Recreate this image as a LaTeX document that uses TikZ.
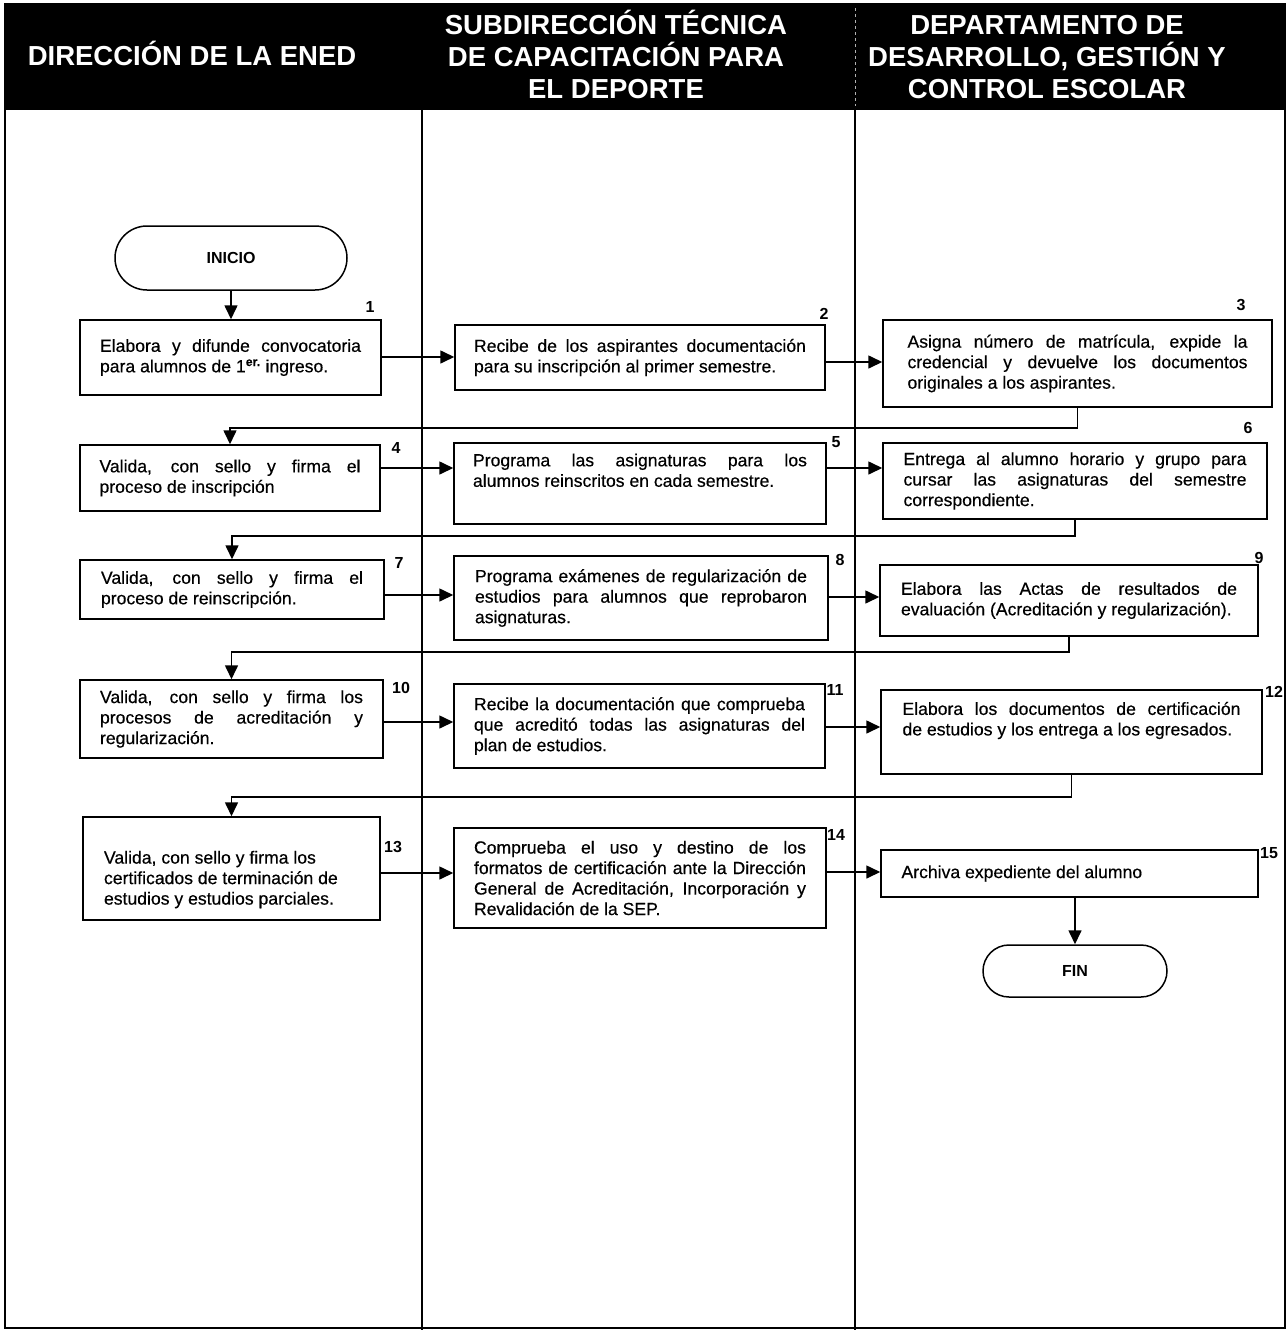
\documentclass[tikz,border=0pt]{standalone}
\usepackage{fontspec}
\setmainfont{Liberation Sans}
\newfontfamily\bodyfont{Liberation Sans}[FakeBold=0.45]
\usetikzlibrary{arrows.meta,shapes.misc}
\newcommand{\jl}[2]{\makebox[#1pt][s]{#2}}
\begin{document}
\begin{tikzpicture}[x=1pt,y=-1pt,
  proc/.style={draw, line width=1.5pt, rectangle, align=left, inner sep=0pt,
    font=\bodyfont\fontsize{17.6}{20.5}\selectfont},
  term/.style={draw, line width=1.5pt, rounded rectangle, inner sep=0pt,
    font=\bfseries\fontsize{16}{19}\selectfont},
  num/.style={font=\bfseries\fontsize{16}{19}\selectfont, inner sep=0pt},
  arr/.style={line width=1.6pt, -{Triangle[length=14pt,width=13pt]}},
  head/.style={text=white, font=\bfseries\fontsize{27.5}{32}\selectfont, align=center, inner sep=0pt},
  lane/.style={line width=1.2pt}]
\useasboundingbox (0,0) rectangle (1287,1330);
\fill[white] (0,0) rectangle (1287,1330);
% header
\fill[black] (4,3) rectangle (1286,110);
\draw[gray!60, dashed, line width=0.8pt] (855,8) -- (855,106);
\node[head] (h1) at (192,53) {DIRECCIÓN DE LA ENED};
\node[head] (h2) at (616,54) {SUBDIRECCIÓN TÉCNICA\\DE CAPACITACIÓN PARA\\EL DEPORTE};
\node[head] (h3) at (1047,57) {DEPARTAMENTO DE\\DESARROLLO, GESTIÓN Y\\CONTROL ESCOLAR};
% frame and lanes
\draw[lane] (5,110) -- (5,1328) -- (1285,1328) -- (1285,110);
\draw[lane] (422,110) -- (422,1330);
\draw[lane] (855,110) -- (855,1330);
% terminals
\node[term, minimum width=232pt, minimum height=64pt] (ini) at (231,258) {INICIO};
\node[term, minimum width=184pt, minimum height=52pt] (fin) at (1075,971) {FIN};
% process boxes
\node[proc, minimum width=301pt, minimum height=75pt] (b1) at (230.5,357.5)
  {\jl{261}{Elabora y difunde convocatoria}\\para alumnos de 1\textsuperscript{\bfseries er.} ingreso.};
\node[proc, minimum width=370pt, minimum height=65pt] (b2) at (640,357.5)
  {\jl{332}{Recibe de los aspirantes documentación}\\para su inscripción al primer semestre.};
\node[proc, minimum width=389pt, minimum height=87pt] (b3) at (1077.5,363.5)
  {\jl{340}{Asigna número de matrícula, expide la}\\\jl{340}{credencial y devuelve los documentos}\\originales a los aspirantes.};
\node[proc, minimum width=300pt, minimum height=66pt] (b4) at (230,478)
  {\jl{261}{Valida, con sello y firma el}\\proceso de inscripción};
\node[proc, minimum width=372pt, minimum height=81pt] (b5) at (640,483.5)
  {\jl{334}{Programa las asignaturas para los}\\alumnos reinscritos en cada semestre.\\\strut};
\node[proc, minimum width=384pt, minimum height=76pt] (b6) at (1075,481)
  {\jl{343}{Entrega al alumno horario y grupo para}\\\jl{343}{cursar las asignaturas del semestre}\\correspondiente.};
\node[proc, minimum width=304pt, minimum height=59pt] (b7) at (232,589.5)
  {\jl{262}{Valida, con sello y firma el}\\proceso de reinscripción.};
\node[proc, minimum width=374pt, minimum height=84pt] (b8) at (641,598)
  {\jl{332}{Programa exámenes de regularización de}\\\jl{332}{estudios para alumnos que reprobaron}\\asignaturas.};
\node[proc, minimum width=378pt, minimum height=71pt] (b9) at (1069,600.5)
  {\jl{336}{Elabora las Actas de resultados de}\\evaluación (Acreditación y regularización).};
\node[proc, minimum width=303pt, minimum height=78pt] (b10) at (231.5,719)
  {\jl{263}{Valida, con sello y firma los}\\\jl{263}{procesos de acreditación y}\\regularización.};
\node[proc, minimum width=371pt, minimum height=84pt] (b11) at (639.5,726)
  {\jl{331}{Recibe la documentación que comprueba}\\\jl{331}{que acreditó todas las asignaturas del}\\plan de estudios.};
\node[proc, minimum width=381pt, minimum height=84pt] (b12) at (1071.5,732)
  {\jl{338}{Elabora los documentos de certificación}\\de estudios y los entrega a los egresados.\\\strut};
\node[proc, minimum width=297pt, minimum height=103pt] (b13) at (231.5,868.5)
  {\strut\\\makebox[255pt][l]{Valida, con sello y firma los}\\certificados de terminación de\\estudios y estudios parciales.};
\node[proc, minimum width=372pt, minimum height=100pt] (b14) at (640,878)
  {\jl{332}{Comprueba el uso y destino de los}\\\jl{332}{formatos de certificación ante la Dirección}\\\jl{332}{General de Acreditación, Incorporación y}\\Revalidación de la SEP.};
\node[proc, minimum width=377pt, minimum height=47pt] (b15) at (1069.5,873.5)
  {\makebox[336pt][l]{Archiva expediente del alumno}};
% step numbers
\node[num] (n1) at (370,307) {1};
\node[num] (n2) at (824,314) {2};
\node[num] (n3) at (1241,305) {3};
\node[num] (n4) at (396,448) {4};
\node[num] (n5) at (836,442) {5};
\node[num] (n6) at (1248,428) {6};
\node[num] (n7) at (399,563) {7};
\node[num] (n8) at (840,560) {8};
\node[num] (n9) at (1259,558) {9};
\node[num] (n10) at (401,688) {10};
\node[num] (n11) at (835,690) {11};
\node[num] (n12) at (1274,692) {12};
\node[num] (n13) at (393,847) {13};
\node[num] (n14) at (836,835) {14};
\node[num] (n15) at (1269,853) {15};
% row levels
\coordinate (y12) at (0,357);
\coordinate (y23) at (0,362);
\coordinate (y45) at (0,468);
\coordinate (y56) at (0,468);
\coordinate (y78) at (0,595);
\coordinate (y89) at (0,597);
\coordinate (y1011) at (0,722);
\coordinate (y1112) at (0,727);
\coordinate (y1314) at (0,873);
\coordinate (y1415) at (0,872);
\coordinate (l34) at (0,428);
\coordinate (l67) at (0,536);
\coordinate (l910) at (0,652);
\coordinate (l1213) at (0,797);
% connectors
\draw[arr] (ini.south) -- (ini.south |- b1.north);
\draw[arr] (b1.east |- y12) -- (b2.west |- y12);
\draw[arr] (b2.east |- y23) -- (b3.west |- y23);
\draw[arr] (b3.south) -- (b3.south |- l34) -| (b4.north);
\draw[arr] (b4.east |- y45) -- (b5.west |- y45);
\draw[arr] (b5.east |- y56) -- (b6.west |- y56);
\draw[arr] (b6.south) -- (b6.south |- l67) -| (b7.north);
\draw[arr] (b7.east |- y78) -- (b8.west |- y78);
\draw[arr] (b8.east |- y89) -- (b9.west |- y89);
\draw[arr] (b9.south) -- (b9.south |- l910) -| (b10.north);
\draw[arr] (b10.east |- y1011) -- (b11.west |- y1011);
\draw[arr] (b11.east |- y1112) -- (b12.west |- y1112);
\draw[arr] (b12.south) -- (b12.south |- l1213) -| (b13.north);
\draw[arr] (b13.east |- y1314) -- (b14.west |- y1314);
\draw[arr] (b14.east |- y1415) -- (b15.west |- y1415);
\draw[arr] (b15.south -| fin.north) -- (fin.north);
\end{tikzpicture}
\end{document}
